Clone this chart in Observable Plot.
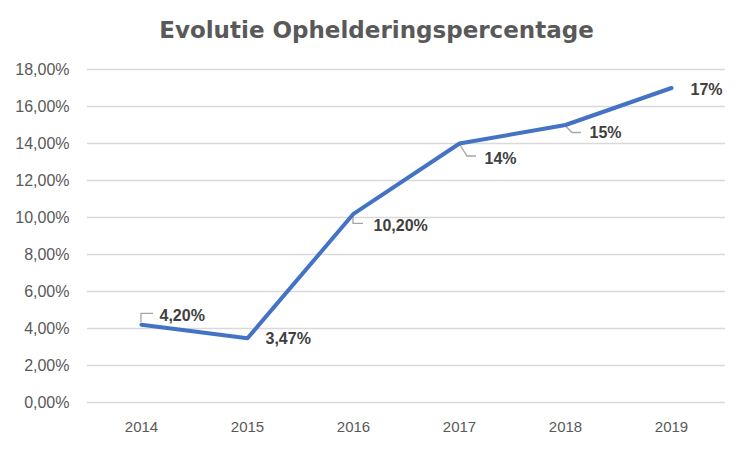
<!DOCTYPE html>
<html>
<head>
<meta charset="utf-8">
<script src="https://cdn.jsdelivr.net/npm/d3@7"></script>
<script src="https://cdn.jsdelivr.net/npm/@observablehq/plot@0.6"></script>
<style>
  html, body { margin: 0; padding: 0; background: #fff; }
</style>
</head>
<body>
<div id="chart"></div>
<script>
const title = "Evolutie Ophelderingspercentage";
const years = ["2014", "2015", "2016", "2017", "2018", "2019"];
const values = [4.20, 3.47, 10.20, 14, 15, 17];
const valueLabels = ["4,20%", "3,47%", "10,20%", "14%", "15%", "17%"];
const yTicks = [0, 2, 4, 6, 8, 10, 12, 14, 16, 18];

// styling: label offsets (px) and leader-line shapes (px offsets from the point)
const labelOffsets = [[18, -9], [18, 1], [20, 12], [25, 15], [24, 8], [19, 2]];
const leaderShapes = [
  [[0, -2], [0, -11], [12, -11]],
  null,
  [[0, 2], [0, 10], [10, 10]],
  [[1, 2], [8, 13], [17, 13]],
  [[1, 2], [7, 8], [16, 8]],
  null
];

const data = years.map((y, i) => ({year: y, value: values[i], label: valueLabels[i], dx: labelOffsets[i][0], dy: labelOffsets[i][1], leader: leaderShapes[i]}));

const nl = d3.formatLocale({decimal: ",", thousands: ".", grouping: [3], currency: ["€", ""]});
const fmt2 = nl.format(".2f");

const leaderMark = (index, scales, values, dimensions, context) => {
  const g = d3.create("svg:g");
  for (const d of data) {
    if (!d.leader) continue;
    const px = scales.x(d.year), py = scales.y(d.value);
    g.append("polyline")
      .attr("points", d.leader.map(([a, b]) => `${px + a},${py + b}`).join(" "))
      .attr("fill", "none")
      .attr("stroke", "#a6a6a6")
      .attr("stroke-width", 1.3);
  }
  return g.node();
};

const chart = Plot.plot({
  width: 750,
  height: 449,
  marginLeft: 87,
  marginRight: 25,
  marginTop: 69,
  marginBottom: 47,
  style: {fontFamily: "'Liberation Sans', Arial, sans-serif", background: "#fff", overflow: "visible"},
  x: {type: "point", domain: years, padding: 0.5},
  y: {domain: [0, 18]},
  marks: [
    Plot.ruleY(yTicks, {stroke: "#d9d9d9", strokeWidth: 1.3}),
    Plot.axisY(yTicks, {tickSize: 0, tickPadding: 18, tickFormat: d => fmt2(d) + "%", fontSize: 16, fill: "#595959", label: null}),
    Plot.axisX(years, {tickSize: 0, tickPadding: 19, fontSize: 15, fill: "#595959", label: null}),
    Plot.text([title], {frameAnchor: "top", lineAnchor: "middle", dy: -39, dx: -30, text: d => d, fontSize: 23, fontWeight: "bold", fill: "#595959", fontFamily: "'DejaVu Sans', Verdana, sans-serif"}),
    leaderMark,
    Plot.line(data, {x: "year", y: "value", stroke: "#4472C4", strokeWidth: 4, strokeLinejoin: "round", strokeLinecap: "round"}),
    ...data.map(d => Plot.text([d], {x: "year", y: "value", text: "label", dx: d.dx, dy: d.dy, textAnchor: "start", fontSize: 16, fontWeight: "bold", fill: "#404040"}))
  ]
});
document.getElementById("chart").appendChild(chart);
</script>
</body>
</html>
